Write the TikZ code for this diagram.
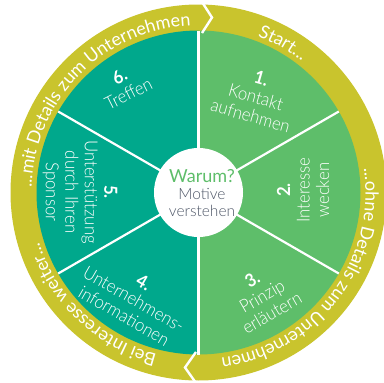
\documentclass[tikz,border=0pt]{standalone}
\usepackage{fontspec}
\setmainfont{Lato}
\newfontfamily\lightfont{Lato}[UprightFont=* Light, BoldFont=* Bold, FakeStretch=0.93]
\newfontfamily\lightplain{Lato}[UprightFont=* Light]
\newfontfamily\ringfam{Lato}
\usetikzlibrary{decorations.text}
\definecolor{ringyellow}{RGB}{201,196,45}
\definecolor{secgreen}{RGB}{94,190,106}
\definecolor{secteal}{RGB}{0,168,140}
\definecolor{warumgreen}{RGB}{94,190,106}
\definecolor{txtgray}{RGB}{77,85,102}
\newcommand{\secfont}{\lightfont\fontsize{18}{19.5}\selectfont}
\newcommand{\ringfont}{\ringfam\fontsize{18}{20}\selectfont}
\tikzset{
  sec/.style={text=white, font=\secfont, align=center, inner sep=0},
  divider/.style={white, line width=2.2pt},
  chev/.style={white, line width=2.4pt, line join=miter},
  ringtext/.style={decorate, decoration={text along path, text align=center, text color=white, text={|\ringfont|#1}}}
}
\begin{document}
\begin{tikzpicture}[x=1pt,y=1pt]
\useasboundingbox (0,0) rectangle (384,-383);
\coordinate (C) at (198.5,-192.5);
% ring
\fill[ringyellow] (C) circle[radius=188];
% halves
\fill[secgreen] (C) ++(90:162) arc[start angle=90,end angle=-90,radius=162] -- cycle;
\fill[secteal] (C) ++(90:162) arc[start angle=90,end angle=270,radius=162] -- cycle;
% dividers
\foreach \a in {90,30,-30,-90,150,210} \draw[divider] (C) -- ++(\a:162);
% chevrons
\draw[chev] (202,-2) -- (212,-17.5) -- (202,-33);
\draw[chev] (196,-352) -- (185,-367.5) -- (196,-383);
% centre
\node[circle, fill=white, minimum size=89pt, inner sep=0] (mid) at (C) {};
\node[text=warumgreen, font=\fontsize{18}{20}\selectfont, inner sep=0] (warum) at (202,-176) {Warum?};
\node[text=txtgray, font=\lightplain\fontsize{15.5}{17}\selectfont, align=center, inner sep=0] (motive) at (202,-202) {Motive\\verstehen};
% sectors
\node[sec, rotate=-16] (s1) at (256,-97) {\textbf{1.}\\Kontakt\\aufnehmen};
\node[sec, rotate=90] (s2) at (303,-190) {\textbf{2.}\\Interesse\\wecken};
\node[sec, rotate=30] (s3) at (262,-296) {\textbf{3.}\\Prinzip\\erläutern};
\node[sec, rotate=-30] (s4) at (134,-299) {\textbf{4.}\\Unternehmens-\\informationen};
\node[sec, rotate=-90] (s5) at (80,-192) {\textbf{5.}\\Unterstützung\\durch Ihren\\Sponsor};
\node[sec, rotate=27] (s6) at (124,-85) {\textbf{6.}\\Treffen};
% ring texts
\path[ringtext={...mit Details zum Unternehmen}] (C) ++(185.5:167) arc[start angle=185.5,end angle=85.5,radius=167];
\path[ringtext={Start...}] (C) ++(85.5:167) arc[start angle=85.5,end angle=35.5,radius=167];
\path[ringtext={...ohne Details zum Unternehmen}] (C) ++(13:167) arc[start angle=13,end angle=-87,radius=167];
\path[ringtext={Bei Interesse weiter...}] (C) ++(266.5:167) arc[start angle=266.5,end angle=186.5,radius=167];
\end{tikzpicture}
\end{document}
